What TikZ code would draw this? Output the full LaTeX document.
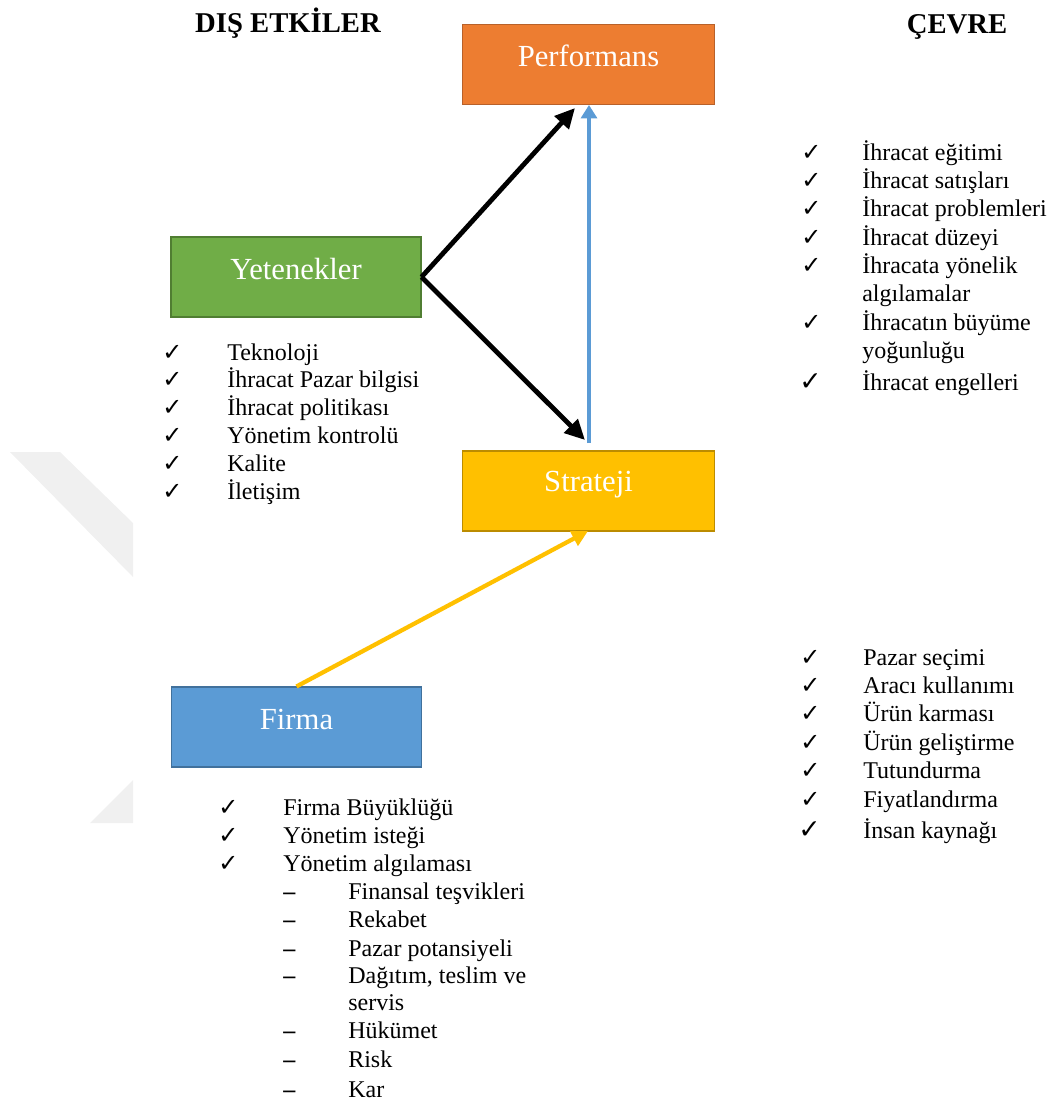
\documentclass[tikz,border=0pt]{standalone}
\usepackage{fontspec}
\setmainfont{Liberation Serif}
\newfontfamily\symfont{DejaVu Sans}
\usetikzlibrary{arrows.meta}

\definecolor{perfFill}{HTML}{ED7D31}\definecolor{perfLine}{HTML}{B8612A}
\definecolor{yetFill}{HTML}{70AD47}\definecolor{yetLine}{HTML}{507E32}
\definecolor{strFill}{HTML}{FFC000}\definecolor{strLine}{HTML}{BC8C00}
\definecolor{firFill}{HTML}{5B9BD5}\definecolor{firLine}{HTML}{41719C}
\definecolor{markGray}{HTML}{F0F0F0}

\tikzset{
  box/.style={draw, line width=0.8pt, inner sep=0pt, minimum width=189pt, minimum height=60pt},
  boxlabel/.style={text=white, inner sep=0pt, font=\fontsize{23}{25}\selectfont},
  title/.style={anchor=base, inner sep=0pt, font=\bfseries\fontsize{21.5}{23}\selectfont},
  item/.style={anchor=base west, inner sep=0pt, font=\fontsize{18}{20}\selectfont},
  chk/.style={anchor=base west, inner sep=0pt, font=\symfont\fontsize{18}{20}\selectfont},
  bigchk/.style={chk, font=\symfont\fontsize{20}{22}\selectfont},
  dashmark/.style={anchor=base west, inner sep=0pt, font=\bfseries\fontsize{18}{20}\selectfont},
  thickarrow/.style={line width=3.6pt, -{Triangle[length=15pt,width=14pt]}},
  bluearrow/.style={draw=firFill, line width=2.3pt, -{Triangle[length=10pt,width=12pt]}},
  yellowarrow/.style={draw=strFill, line width=3.2pt, -{Triangle[length=12pt,width=12pt]}},
}

\begin{document}
\begin{tikzpicture}[x=0.75pt,y=-0.75pt]
\useasboundingbox (0,0) rectangle (1056,1104);

% faint background mark at the left edge
\fill[markGray] (10,452) -- (60,452) -- (133,523) -- (133,577) -- cycle;
\fill[markGray] (133,780) -- (133,823) -- (90,823) -- cycle;

% headings
\node[title] (dis) at (288,32) {DIŞ ETKİLER};
\node[title] (cevre) at (957,33) {ÇEVRE};

% main boxes
\node[box, fill=perfFill, draw=perfLine] (perf) at (588.5,64.5) {};
\node[box, fill=yetFill, draw=yetLine, minimum width=187.5pt] (yet) at (296,277) {};
\node[box, fill=strFill, draw=strLine] (strat) at (588.5,491) {};
\node[box, fill=firFill, draw=firLine, minimum width=187pt] (firma) at (296.5,727) {};

\node[boxlabel] (perfL) at (588.5,56) {Performans};
\node[boxlabel] (yetL) at (296,269) {Yetenekler};
\node[boxlabel] (stratL) at (588.5,485) {Strateji};
\node[boxlabel] (firmaL) at (296.5,719) {Firma};

% connectors
\coordinate (perfIn) at (575,108);
\coordinate (stratIn) at (585,440);
\coordinate (blueFrom) at (589,443);
\coordinate (blueTo) at (589,105);
\coordinate (stratBottom) at (588,531);
\draw[thickarrow] (yet.east) -- (perfIn);
\draw[thickarrow] (yet.east) -- (stratIn);
\draw[bluearrow] (blueFrom) -- (blueTo);
\draw[yellowarrow] (firma.north) -- (stratBottom);

% capabilities list
\foreach \t [count=\i from 0] in {Teknoloji, İhracat Pazar bilgisi, İhracat politikası, Yönetim kontrolü, Kalite, İletişim} {
  \node[chk] (yc\i) at (162,{360+27.8*\i}) {✓};
  \node[item] (yi\i) at (227,{360+27.8*\i}) {\t};
}

% firm list
\foreach \t [count=\i from 0] in {Firma Büyüklüğü, Yönetim isteği, Yönetim algılaması} {
  \node[chk] (fc\i) at (218,{815+28.3*\i}) {✓};
  \node[item] (fi\i) at (283,{815+28.3*\i}) {\t};
}
\node[dashmark] (fd1) at (283,899) {–};  \node[item] (fs1) at (348,899) {Finansal teşvikleri};
\node[dashmark] (fd2) at (283,927) {–};  \node[item] (fs2) at (348,927) {Rekabet};
\node[dashmark] (fd3) at (283,956) {–};  \node[item] (fs3) at (348,956) {Pazar potansiyeli};
\node[dashmark] (fd4) at (283,983) {–};  \node[item] (fs4) at (348,983) {Dağıtım, teslim ve};
\node[item] (fs4b) at (348,1010) {servis};
\node[dashmark] (fd5) at (283,1038) {–}; \node[item] (fs5) at (348,1038) {Hükümet};
\node[dashmark] (fd6) at (283,1067) {–}; \node[item] (fs6) at (348,1067) {Risk};
\node[dashmark] (fd7) at (283,1097) {–}; \node[item] (fs7) at (348,1097) {Kar};

% environment list (upper)
\node[chk] (ec1) at (801,160) {✓}; \node[item] (ei1) at (862,160) {İhracat eğitimi};
\node[chk] (ec2) at (801,188) {✓}; \node[item] (ei2) at (862,188) {İhracat satışları};
\node[chk] (ec3) at (801,216.5) {✓}; \node[item] (ei3) at (862,216.5) {İhracat problemleri};
\node[chk] (ec4) at (801,245) {✓}; \node[item] (ei4) at (862,245) {İhracat düzeyi};
\node[chk] (ec5) at (801,273) {✓}; \node[item] (ei5) at (862,273) {İhracata yönelik};
\node[item] (ei5b) at (862,301) {algılamalar};
\node[chk] (ec6) at (801,330) {✓}; \node[item] (ei6) at (862,330) {İhracatın büyüme};
\node[item] (ei6b) at (862,358) {yoğunluğu};
\node[bigchk] (ec7) at (799,390) {✓}; \node[item] (ei7) at (862,390) {İhracat engelleri};

% environment list (lower)
\foreach \t [count=\i from 0] in {Pazar seçimi, Aracı kullanımı, Ürün karması, Ürün geliştirme, Tutundurma, Fiyatlandırma} {
  \node[chk] (sc\i) at (800,{665+28.4*\i}) {✓};
  \node[item] (si\i) at (863,{665+28.4*\i}) {\t};
}
\node[bigchk] (sc6) at (798,838) {✓}; \node[item] (si6) at (863,838) {İnsan kaynağı};
\end{tikzpicture}
\end{document}
